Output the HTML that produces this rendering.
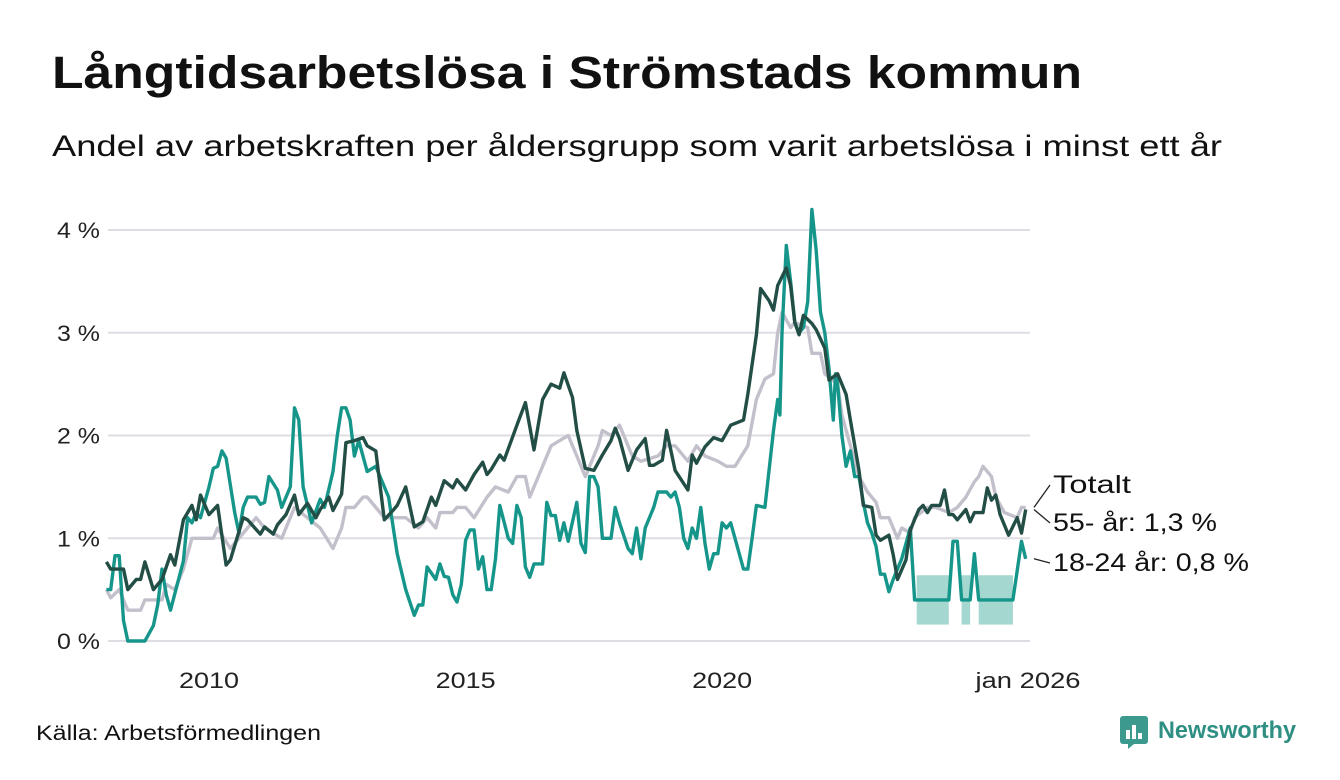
<!DOCTYPE html>
<html><head><meta charset="utf-8"><style>
body{margin:0;background:#fff;width:1340px;height:780px;overflow:hidden;font-family:"Liberation Sans",sans-serif;color:#111}
svg{position:absolute;left:0;top:0}
</style></head><body>
<svg id="c" width="1340" height="780" font-family="Liberation Sans, sans-serif">
<text x="52" y="88" font-size="45" font-weight="bold" fill="#111" textLength="1030" lengthAdjust="spacingAndGlyphs">Långtidsarbetslösa i Strömstads kommun</text>
<text x="52" y="156" font-size="30" fill="#111" textLength="1170" lengthAdjust="spacingAndGlyphs">Andel av arbetskraften per åldersgrupp som varit arbetslösa i minst ett år</text>
<text x="36" y="740" font-size="21" fill="#111" textLength="285" lengthAdjust="spacingAndGlyphs">Källa: Arbetsförmedlingen</text>
<g>
<rect x="1120" y="716" width="28" height="28" rx="3" fill="#3b9a8d"/><rect x="1126" y="730" width="4" height="9" fill="#fff"/><rect x="1132" y="725" width="4" height="14" fill="#fff"/><rect x="1138" y="733" width="4" height="6" fill="#fff"/><path d="M1128 744 L1134 744 L1128 749Z" fill="#3b9a8d"/>
<text x="1158" y="738" font-size="24" font-weight="bold" fill="#2f8f83" textLength="138" lengthAdjust="spacingAndGlyphs">Newsworthy</text>
</g>
</svg>
<script>
const yTicks=[0,1,2,3,4];
const yTickLabels=["0 %","1 %","2 %","3 %","4 %"];
const xTicks=[24,84,144,216];
const xTickLabels=["2010","2015","2020","jan 2026"];
const darkMonths=[0,1,4,5,7,8,9,11,13,15,16,18,20,21,22,24,26,28,29,32,33,36,37,39,40,42,44,45,47,49,50,52,53,55,56,58,60,61,63,65,67,68,70,72,74,75,76,77,79,81,82,84,86,88,89,90,92,93,96,98,100,102,104,106,107,109,110,112,114,116,118,119,120,122,124,126,127,128,130,131,133,136,137,138,140,142,144,146,149,150,152,153,155,156,157,159,160,161,162,163,165,166,168,169,171,173,174,176,177,179,180,181,183,184,185,187,188,190,191,192,193,195,196,197,198,199,201,202,203,205,206,207,208,209,211,213,214,215];
const darkValues=[.77,.7,.7,.5,.6,.6,.77,.5,.6,.84,.74,1.18,1.32,1.18,1.42,1.23,1.32,.74,.79,1.2,1.18,1.04,1.11,1.04,1.13,1.23,1.42,1.23,1.34,1.2,1.28,1.4,1.27,1.43,1.93,1.95,1.98,1.9,1.85,1.18,1.27,1.32,1.5,1.11,1.16,1.28,1.4,1.32,1.56,1.49,1.57,1.47,1.62,1.74,1.62,1.67,1.81,1.76,2.1,2.32,1.86,2.35,2.5,2.46,2.61,2.37,2.05,1.68,1.66,1.81,1.95,2.07,1.97,1.66,1.86,1.97,1.71,1.71,1.76,2.05,1.66,1.47,1.81,1.73,1.89,1.98,1.95,2.1,2.15,2.4,2.98,3.43,3.31,3.22,3.46,3.63,3.46,3.1,2.98,3.17,3.09,3.03,2.85,2.54,2.6,2.4,2.15,1.66,1.32,1.3,1.03,.98,1.03,.84,.6,.79,1.08,1.28,1.32,1.25,1.32,1.32,1.47,1.23,1.23,1.18,1.28,1.16,1.25,1.25,1.49,1.37,1.42,1.23,1.03,1.2,1.05,1.28];
const grayMonths=[0,1,3,5,8,9,13,14,16,18,20,25,26,29,33,35,37,41,44,47,50,53,55,56,58,60,61,63,65,68,70,73,75,77,78,81,82,84,86,89,91,94,96,98,99,102,104,106,108,110,112,115,116,118,120,123,125,129,131,133,136,138,140,143,145,147,150,152,154,156,157,158,160,161,164,165,167,168,171,172,174,176,178,180,181,183,185,186,188,189,192,194,197,199,201,203,204,205,207,208,210,213,214,215];
const grayValues=[.5,.42,.5,.3,.3,.4,.4,.55,.5,.7,1,1,1.1,.9,1.1,1.2,1.1,1,1.3,1.2,1.1,.9,1.1,1.3,1.3,1.4,1.4,1.3,1.2,1.2,1.2,1.1,1.2,1.1,1.25,1.25,1.3,1.3,1.2,1.4,1.5,1.45,1.6,1.6,1.4,1.7,1.9,1.95,2,1.8,1.6,1.9,2.05,2,2.1,1.8,1.75,1.8,1.9,1.9,1.75,1.9,1.8,1.75,1.7,1.7,1.9,2.35,2.55,2.6,3,3.2,3.05,3.1,3.05,2.8,2.8,2.6,2.5,2.2,1.9,1.6,1.45,1.35,1.2,1.2,1,1.1,1.05,1.2,1.3,1.3,1.25,1.3,1.4,1.55,1.6,1.7,1.6,1.4,1.25,1.2,1.3,1.3];
const tealMonths=[0,1,2,3,4,5,9,11,12,13,14,15,18,19,20,21,22,24,25,26,27,28,30,31,32,33,35,36,37,38,40,41,43,44,45,46,48,50,51,53,54,55,56,57,58,59,61,63,66,68,70,72,73,74,75,77,78,79,80,81,82,83,84,85,86,87,88,89,90,91,92,94,95,96,97,98,99,100,102,103,104,105,106,107,108,110,111,112,113,114,115,116,118,119,120,122,123,124,125,126,128,129,131,132,133,134,135,136,137,138,139,140,141,142,143,144,145,146,147,149,150,151,152,154,156,157,157.5,158,159,160,161,162,163,164,165,166,167,168,169,170,170.5,171,172,173,174,175,176,177,178,179,180,181,182,183,184,186,188,189,197,198,199,200,202,203,204,212,214,215];
const tealValues=[.5,.5,.83,.83,.2,0,0,.15,.35,.7,.45,.3,.78,1.2,1.15,1.25,1.2,1.5,1.68,1.7,1.85,1.78,1.25,1.05,1.3,1.4,1.4,1.33,1.35,1.6,1.47,1.3,1.5,2.27,2.15,1.5,1.15,1.38,1.3,1.65,2,2.27,2.27,2.15,1.8,1.95,1.65,1.7,1.4,.85,.5,.25,.35,.35,.72,.6,.75,.63,.62,.45,.38,.55,.98,1.08,1.08,.7,.82,.5,.5,.8,1.32,1,.95,1.32,1.2,.72,.62,.75,.75,1.35,1.22,1.22,.98,1.15,.97,1.35,.95,.86,1.6,1.6,1.5,1,1,1.3,1.15,.9,.85,1.1,.8,1.1,1.3,1.45,1.45,1.4,1.45,1.3,1,.9,1.1,1,1.3,.95,.7,.85,.85,1.15,1.1,1.15,1,.7,.7,1,1.32,1.3,2.05,2.35,2.2,3,3.85,3.5,3.1,3,3.05,3.3,4.2,3.8,3.2,3,2.65,2.15,2.6,2.5,2,1.7,1.85,1.6,1.6,1.35,1.15,1.05,.92,.65,.65,.48,.6,.8,1.1,.4,.4,.97,.97,.4,.4,.85,.4,.4,.97,.8];
const bandStarts=[189.5,200,204];
const bandEnds=[197,202,212];
const bandLow=[.16,.16,.16];
const bandHigh=[.64,.64,.64];
const NS="http://www.w3.org/2000/svg";
const svg=document.getElementById('c');
const X=m=>106.4+m*4.276;
const Y=v=>641-v*102.75;
function mk(tag,attrs){const e=document.createElementNS(NS,tag);for(const k in attrs)e.setAttribute(k,attrs[k]);svg.appendChild(e);return e;}
yTicks.forEach((v,i)=>{
  const g=mk('line',{x1:108,x2:1030,y1:Y(v),y2:Y(v),stroke:'#dedde3','stroke-width':2});
  
  
  const t=mk('text',{x:100,y:Y(v)+8,'text-anchor':'end','font-size':22,fill:'#222',textLength:43,lengthAdjust:'spacingAndGlyphs'});
  t.textContent=yTickLabels[i];
  
  
});
xTicks.forEach((m,i)=>{
  const w=i==3?105:60;
  const t=mk('text',{x:X(m)-(i==3?2:0),y:688,'text-anchor':'middle','font-size':22,fill:'#222',textLength:w,lengthAdjust:'spacingAndGlyphs'});
  t.textContent=xTickLabels[i];
  
  
});
bandStarts.forEach((s,i)=>{
  const r=mk('rect',{x:X(s),y:Y(bandHigh[i]),width:X(bandEnds[i])-X(s),height:Y(bandLow[i])-Y(bandHigh[i]),fill:'#a4d7cf'});
  
  
});
function line(ms,vs,col,name){
  const d=ms.map((m,i)=>(i?'L':'M')+X(m).toFixed(1)+' '+Y(vs[i]).toFixed(1)).join(' ');
  const p=mk('path',{d:d,fill:'none',stroke:col,'stroke-width':3.4,'stroke-linejoin':'round'});
  
  
}
line(grayMonths,grayValues,'#c3c0cc','line-totalt');
line(tealMonths,tealValues,'#16968a','line-18-24');
line(darkMonths,darkValues,'#234e46','line-55-plus');
const labs=[["Totalt",493,Y(grayValues[grayValues.length-1]),'legend-totalt',78],["55- år: 1,3 %",531,Y(darkValues[darkValues.length-1]),'legend-55-plus',164],["18-24 år: 0,8 %",571,Y(tealValues[tealValues.length-1]),'legend-18-24',196]];
labs.forEach(l=>{
  const ln=mk('line',{x1:1034,y1:l[2],x2:1050,y2:l[1]-8,stroke:'#222','stroke-width':1.3});
  
  
  const t=mk('text',{x:1053,y:l[1],'font-size':25,fill:'#111',textLength:l[4],lengthAdjust:'spacingAndGlyphs'});
  t.textContent=l[0];
  
  
});
</script>
</body></html>
